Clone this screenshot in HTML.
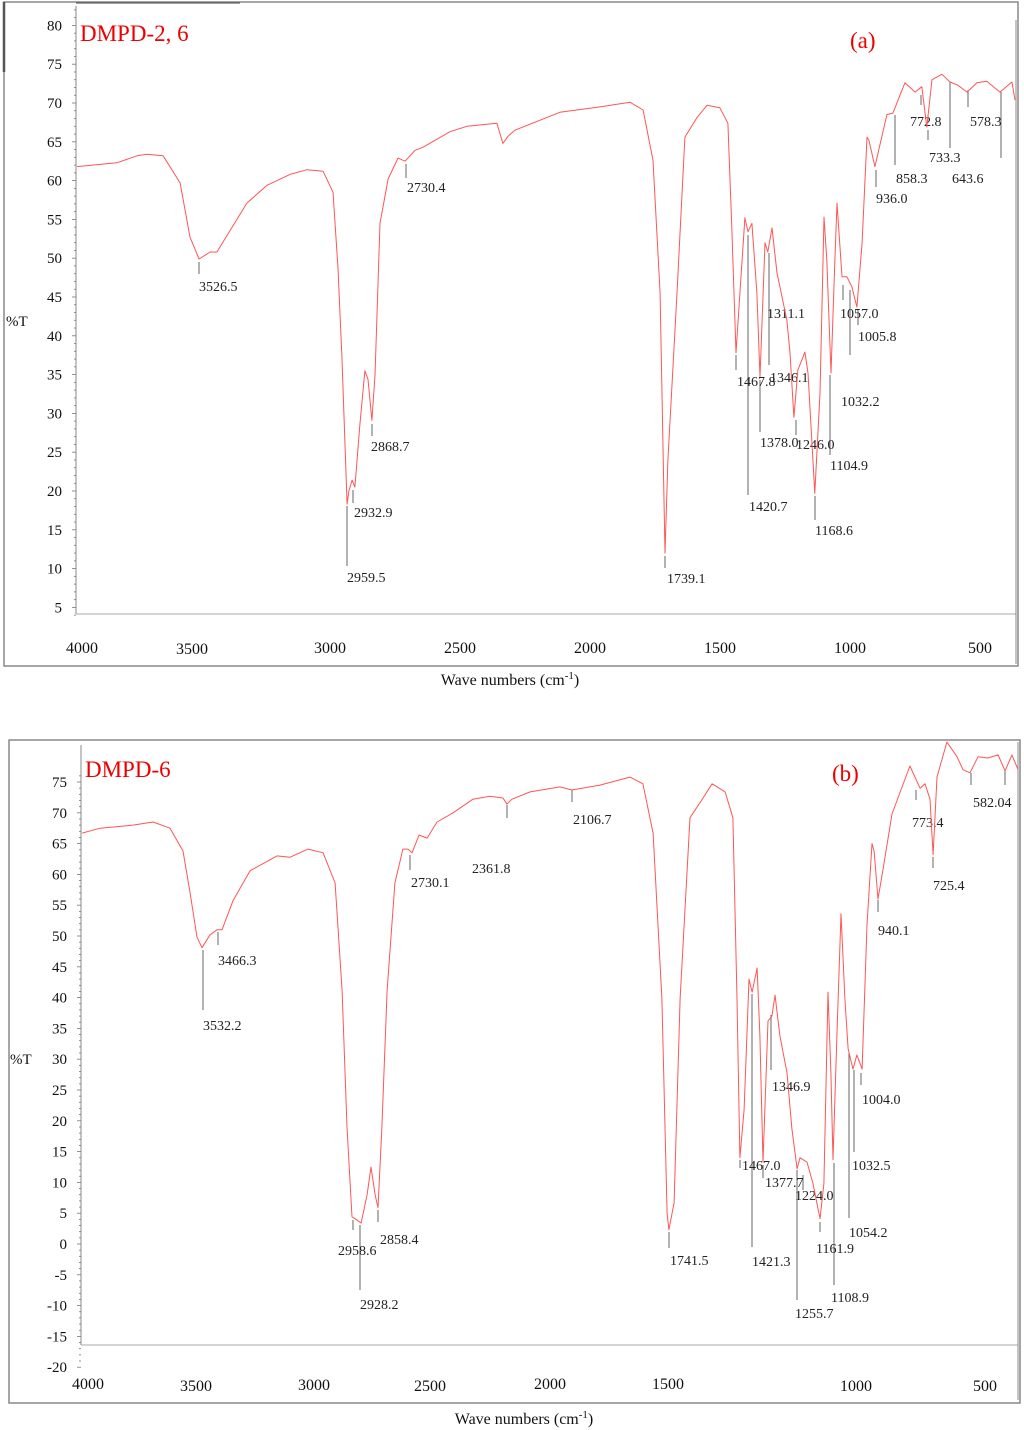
<!DOCTYPE html>
<html><head><meta charset="utf-8">
<style>
html,body{margin:0;padding:0;background:#fff;}
svg{display:block;font-family:"Liberation Serif",serif;}
.lbl{font-size:14px;fill:#222;}
.tick{font-size:16px;fill:#111;}
</style></head>
<body>
<svg id="fig" width="1024" height="1430" viewBox="0 0 1024 1430" xmlns="http://www.w3.org/2000/svg">
  <rect width="1024" height="1430" fill="#fff"/>
  <!-- Panel a frame -->
  <g>
    <rect x="4" y="2" width="1014" height="664" fill="none" stroke="#888" stroke-width="1.5"/>
    <line x1="4" y1="2" x2="4" y2="72" stroke="#555" stroke-width="2.5"/>
    <line x1="76" y1="6" x2="76" y2="614" stroke="#888" stroke-width="1"/>
    <line x1="76" y1="614" x2="1016" y2="614" stroke="#aaa" stroke-width="1"/>
    <line x1="1016" y1="20" x2="1016" y2="664" stroke="#888" stroke-width="1"/>
    <line x1="76" y1="3" x2="240" y2="3" stroke="#444" stroke-width="1"/>
  </g>
  <g>
    <rect x="9" y="740" width="1011" height="663" fill="none" stroke="#888" stroke-width="1.5"/>
    <line x1="81" y1="745" x2="81" y2="1345" stroke="#888" stroke-width="1"/>
    <line x1="81" y1="1345" x2="1018" y2="1345" stroke="#aaa" stroke-width="1"/>
    <line x1="1018" y1="742" x2="1018" y2="1400" stroke="#888" stroke-width="1"/>
  </g>
  <g id="a-yticks"></g>
  <g id="b-yticks"></g>

  <!-- x tick labels -->
  <g class="tick" text-anchor="middle">
    <text x="82" y="653">4000</text><text x="192" y="654">3500</text><text x="330" y="653">3000</text>
    <text x="460" y="653">2500</text><text x="590" y="653">2000</text><text x="720" y="653">1500</text>
    <text x="850" y="653">1000</text><text x="980" y="653">500</text>
  </g>
  <g class="tick" text-anchor="middle">
    <text x="88" y="1389">4000</text><text x="196" y="1391">3500</text><text x="314" y="1390">3000</text>
    <text x="430" y="1391">2500</text><text x="550" y="1389">2000</text><text x="668" y="1389">1500</text>
    <text x="856" y="1391">1000</text><text x="985" y="1391">500</text>
  </g>
  <text x="510" y="685" text-anchor="middle" font-size="16" fill="#111">Wave numbers (cm<tspan font-size="11" dy="-6">-1</tspan><tspan dy="6">)</tspan></text>
  <text x="524" y="1424" text-anchor="middle" font-size="16" fill="#111">Wave numbers (cm<tspan font-size="11" dy="-6">-1</tspan><tspan dy="6">)</tspan></text>
  <text x="6" y="326" font-size="15" fill="#111">%T</text>
  <text x="10" y="1064" font-size="15" fill="#111">%T</text>
  <text x="80" y="41" font-size="23" fill="#e00">DMPD-2, 6</text>
  <text x="850" y="48" font-size="23" fill="#e00">(a)</text>
  <text x="85" y="777" font-size="23" fill="#e00">DMPD-6</text>
  <text x="832" y="781" font-size="23" fill="#e00">(b)</text>

  <defs>
    <clipPath id="clipA"><rect x="77" y="2" width="939" height="612"/></clipPath>
    <clipPath id="clipB"><rect x="82" y="741" width="936" height="604"/></clipPath>
  </defs>
  <g id="a-annot"></g>
  <g id="b-annot"></g>
  <path id="a-line" clip-path="url(#clipA)" fill="none" stroke="#f55" stroke-width="1" stroke-linejoin="round"/>
  <path id="b-line" clip-path="url(#clipB)" fill="none" stroke="#f55" stroke-width="1" stroke-linejoin="round"/>
</svg>
<script>
// Panel (a) DMPD-2,6 spectrum
var aWave = [3994,3841,3764,3726,3664,3599,3561,3526,3484,3458,3343,3266,3178,3113,3051,3013,2994,2979,2959,2952,2940,2929,2910,2891,2879,2864,2852,2833,2802,2764,2737,2699,2668,2565,2500,2385,2362,2343,2316,2144,1990,1875,1825,1787,1760,1741,1730,1695,1665,1619,1580,1531,1500,1485,1469,1454,1435,1423,1408,1389,1377,1358,1347,1331,1312,1274,1262,1247,1232,1205,1193,1167,1147,1132,1121,1105,1090,1082,1063,1044,1025,1006,986,967,960,937,891,868,822,783,757,738,718,680,649,619,584,546,508,458,412,400];
var aT = [61.8,62.3,63.2,63.4,63.2,59.7,52.7,49.9,50.8,50.8,57.1,59.4,60.8,61.4,61.2,58.5,48.7,37.3,18.3,20.0,21.4,20.5,28.6,35.5,34.4,29.1,34.9,54.5,60.2,62.9,62.5,63.9,64.3,66.3,67.0,67.4,64.8,65.7,66.5,68.8,69.5,70.1,69.1,62.6,45.5,12.0,24.0,45.5,65.6,68.1,69.7,69.4,67.4,54.0,37.8,45.5,55.2,53.4,54.5,45.5,34.7,52.0,50.8,53.9,48.1,42.0,37.8,29.5,35.6,37.9,35.2,19.7,32.6,55.3,49.8,35.2,49.8,57.1,47.6,47.6,46.3,43.7,52.0,65.6,65.2,61.8,68.5,68.7,72.6,71.4,72.1,66.9,73.0,73.7,72.7,72.3,71.4,72.6,72.8,71.4,72.7,70.4];
// Panel (b) DMPD-6 spectrum
var bWave = [3997,3928,3801,3724,3659,3609,3582,3555,3536,3505,3478,3459,3417,3351,3247,3197,3128,3070,3024,2997,2978,2959,2947,2924,2901,2886,2870,2859,2844,2824,2794,2763,2744,2728,2701,2670,2632,2570,2494,2428,2378,2363,2344,2274,2159,2113,2005,1890,1840,1801,1767,1747,1740,1720,1697,1659,1621,1574,1524,1494,1478,1467,1451,1432,1420,1401,1390,1378,1359,1344,1332,1313,1286,1267,1247,1236,1209,1186,1159,1144,1128,1117,1109,1094,1078,1063,1051,1032,1017,997,978,959,951,936,917,882,813,774,755,736,724,709,671,632,609,582,551,513,474,447,421,397];
var bT = [66.7,67.5,68.0,68.5,67.5,63.8,57.1,49.8,48.1,50.2,51.0,51.0,55.7,60.6,63.0,62.8,64.1,63.5,58.6,41.1,19.0,4.4,4.1,3.4,8.0,12.5,8.0,5.9,19.0,41.1,58.6,64.1,64.1,63.5,66.4,65.9,68.5,70.0,72.2,72.7,72.4,71.4,72.2,73.4,74.2,73.7,74.5,75.8,74.7,66.7,39.8,4.9,2.3,6.7,39.8,69.2,71.6,74.7,73.4,69.2,39.8,14.0,21.8,43.0,40.9,44.8,33.8,13.3,36.2,37.0,40.4,33.8,27.8,18.7,12.2,14.0,13.3,9.8,4.1,9.8,40.9,27.8,13.7,33.8,53.6,39.8,31.7,28.4,30.7,28.4,51.8,65.0,63.8,56.0,60.7,69.8,77.6,74.0,74.7,72.2,63.2,75.8,81.5,79.1,77.0,76.5,79.1,78.9,79.4,76.8,79.4,77.0];
var aYTicks = [80,75,70,65,60,55,50,45,40,35,30,25,20,15,10,5];
var bYTicks = [75,70,65,60,55,50,45,40,35,30,25,20,15,10,5,0,-5,-10,-15,-20];

var NS = "http://www.w3.org/2000/svg";
function axA_x(w){ return 199 + (3526.5 - w) * 0.261; }
function axA_y(v){ return 103 + (70 - v) * 7.76; }
function axB_x(w){ return 203 + (3532 - w) * 0.26; }
function axB_y(v){ return 782 + (75 - v) * 6.16; }

function linePath(ws, ts, fx, fy){
  var d = "";
  for (var i = 0; i < ws.length; i++){
    d += (i ? "L" : "M") + fx(ws[i]).toFixed(1) + "," + fy(ts[i]).toFixed(1);
  }
  return d;
}
document.getElementById("a-line").setAttribute("d", linePath(aWave, aT, axA_x, axA_y));
document.getElementById("b-line").setAttribute("d", linePath(bWave, bT, axB_x, axB_y));

function yAxis(gid, ticks, fy, axisX, minV, maxV){
  var g = document.getElementById(gid);
  for (var v = minV; v <= maxV; v++){
    var t = document.createElementNS(NS, "line");
    
    
    var len = (v % 5 === 0) ? 4 : 2;
    t.setAttribute("x1", axisX - len); t.setAttribute("x2", axisX);
    t.setAttribute("y1", fy(v)); t.setAttribute("y2", fy(v));
    t.setAttribute("stroke", "#777"); t.setAttribute("stroke-width", "0.8");
    g.appendChild(t);
  }
  for (var i = 0; i < ticks.length; i++){
    var tx = document.createElementNS(NS, "text");
    
    
    tx.setAttribute("x", axisX - 14);
    tx.setAttribute("y", fy(ticks[i]) + 5);
    tx.setAttribute("text-anchor", "end");
    tx.setAttribute("font-size", "15");
    tx.setAttribute("fill", "#111");
    tx.textContent = ticks[i];
    g.appendChild(tx);
  }
}
yAxis("a-yticks", aYTicks, axA_y, 76, 4, 82);
yAxis("b-yticks", bYTicks, axB_y, 81, -20, 76);

// peak annotation labels (text, label x, label y-center) and leader lines
var aPeakLabels = [["3526.5",199,286],["2730.4",407,187],["2868.7",371,446],["2932.9",354,512],["2959.5",347,577],["1739.1",667,578],["1467.8",737,381],["1346.1",770,377],["1311.1",767,313],["1378.0",760,442],["1246.0",796,444],["1420.7",749,506],["1168.6",815,530],["1104.9",830,465],["1032.2",841,401],["1057.0",840,313],["1005.8",858,336],["936.0",876,198],["858.3",896,178],["772.8",910,121],["733.3",929,157],["643.6",952,178],["578.3",970,121]];
var aLeaders = [[199,262,274],[406,164,178],[372,424,436],[353,490,503],[347,506,566],[665,556,568],[736,355,370],[748,235,495],[760,380,432],[769,253,365],[796,420,435],[815,496,520],[830,375,455],[850,290,355],[843,285,300],[858,310,325],[876,170,187],[895,115,165],[921,95,105],[928,130,140],[950,82,148],[968,90,107],[1001,92,158]];
var bPeakLabels = [["3466.3",218,960],["3532.2",203,1025],["2730.1",411,882],["2361.8",472,868],["2106.7",573,819],["2958.6",338,1250],["2858.4",380,1239],["2928.2",360,1304],["1741.5",670,1260],["1467.0",742,1165],["1377.7",765,1182],["1346.9",772,1086],["1224.0",795,1195],["1421.3",752,1261],["1255.7",795,1313],["1161.9",816,1248],["1108.9",831,1297],["1054.2",849,1232],["1032.5",852,1165],["1004.0",862,1099],["940.1",878,930],["773.4",912,822],["725.4",933,885],["582.04",973,802]];
var bLeaders = [[203,950,1010],[218,932,945],[410,855,870],[507,805,818],[572,790,802],[353,1220,1230],[360,1225,1290],[378,1210,1222],[669,1232,1248],[740,1160,1168],[752,994,1247],[763,1165,1178],[771,1015,1070],[797,1170,1300],[803,1175,1190],[820,1222,1232],[834,1163,1285],[849,1053,1218],[854,1070,1152],[861,1073,1085],[878,900,912],[916,790,800],[933,857,868],[971,773,785],[1005,771,785]];

function annotate(gid, labels, leaders){
  var g = document.getElementById(gid);
  for (var i = 0; i < leaders.length; i++){
    var l = document.createElementNS(NS, "line");
    
    
    l.setAttribute("x1", leaders[i][0]); l.setAttribute("x2", leaders[i][0]);
    l.setAttribute("y1", leaders[i][1]); l.setAttribute("y2", leaders[i][2]);
    l.setAttribute("stroke", "#666"); l.setAttribute("stroke-width", "1");
    g.appendChild(l);
  }
  for (var j = 0; j < labels.length; j++){
    var t = document.createElementNS(NS, "text");
    
    
    t.setAttribute("x", labels[j][1]);
    t.setAttribute("y", labels[j][2] + 5);
    t.setAttribute("class", "lbl");
    t.textContent = labels[j][0];
    g.appendChild(t);
  }
}
annotate("a-annot", aPeakLabels, aLeaders);
annotate("b-annot", bPeakLabels, bLeaders);
</script>
</body></html>
